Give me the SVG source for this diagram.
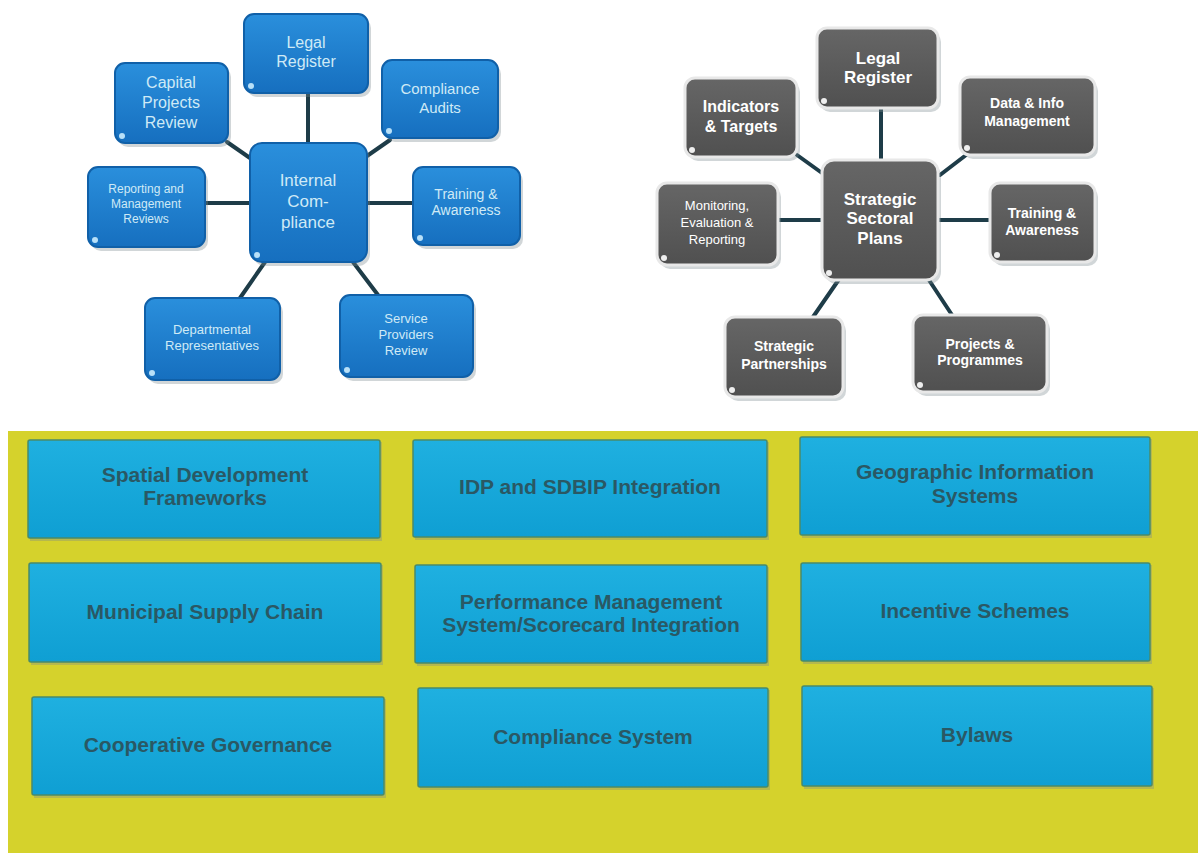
<svg xmlns="http://www.w3.org/2000/svg" width="1204" height="853" viewBox="0 0 1204 853">
<defs>
<linearGradient id="gBlue" x1="0" y1="0" x2="0" y2="1"><stop offset="0" stop-color="#2a8fdc"/><stop offset="1" stop-color="#166fbf"/></linearGradient>
<linearGradient id="gGrey" x1="0" y1="0" x2="0" y2="1"><stop offset="0" stop-color="#666"/><stop offset="1" stop-color="#505050"/></linearGradient>
<linearGradient id="gCyan" x1="0" y1="0" x2="0" y2="1"><stop offset="0" stop-color="#1fb0e0"/><stop offset="1" stop-color="#0f9fd3"/></linearGradient>
</defs>
<style>
.bl{fill:url(#gBlue);stroke:#1060a8;stroke-width:2}
.gr{fill:url(#gGrey);stroke:#e8e8e8;stroke-width:3}
.cy{fill:url(#gCyan);stroke:#4a8a6a;stroke-width:1.5}
.sh{fill:#7a8a90;opacity:0.35}
.dot{fill:#b8e0f8}
.dotg{fill:#eee}
.con line{stroke:#1e3c48;stroke-width:4;stroke-linecap:round}
.tb{font-family:"Liberation Sans",Arial,sans-serif;fill:#cfeaf6;text-anchor:middle}
.tg{font-family:"Liberation Sans",Arial,sans-serif;fill:#fff;font-weight:bold;text-anchor:middle}
.tn{font-weight:normal}
.ty{font-family:"Liberation Sans",Arial,sans-serif;fill:#2a5864;font-weight:bold;font-size:21px;text-anchor:middle}
</style>
<rect width="1204" height="853" fill="#fff"/>

<g id="connectors" class="con">
<line x1="308" y1="93" x2="308" y2="143"/>
<line x1="227" y1="142" x2="250" y2="158"/>
<line x1="367" y1="156" x2="390" y2="140"/>
<line x1="205" y1="203" x2="250" y2="203"/>
<line x1="367" y1="203" x2="413" y2="203"/>
<line x1="265" y1="262" x2="240" y2="298"/>
<line x1="353" y1="262" x2="378" y2="295"/>
<line x1="881" y1="108" x2="881" y2="160"/>
<line x1="797" y1="155" x2="822" y2="173"/>
<line x1="940" y1="175" x2="970" y2="152"/>
<line x1="778" y1="220" x2="822" y2="220"/>
<line x1="938" y1="220" x2="990" y2="220"/>
<line x1="842" y1="275" x2="813" y2="317"/>
<line x1="927" y1="277" x2="952" y2="315"/>
</g>

<!-- Left cluster -->
<g id="lc-legal"><rect class="sh" x="247" y="18" width="124" height="79" rx="10"/><rect class="bl" x="244" y="14" width="124" height="79" rx="10"/><circle class="dot" cx="251" cy="86" r="3"/>
<text class="tb" font-size="16"><tspan x="306" y="48">Legal</tspan><tspan x="306" y="67">Register</tspan></text></g>
<g id="lc-capital"><rect class="sh" x="118" y="67" width="113" height="80" rx="10"/><rect class="bl" x="115" y="63" width="113" height="80" rx="10"/><circle class="dot" cx="122" cy="136" r="3"/>
<text class="tb" font-size="16"><tspan x="171" y="88">Capital</tspan><tspan x="171" y="108">Projects</tspan><tspan x="171" y="128">Review</tspan></text></g>
<g id="lc-audits"><rect class="sh" x="385" y="64" width="116" height="78" rx="10"/><rect class="bl" x="382" y="60" width="116" height="78" rx="10"/><circle class="dot" cx="389" cy="131" r="3"/>
<text class="tb" font-size="15"><tspan x="440" y="94">Compliance</tspan><tspan x="440" y="113">Audits</tspan></text></g>
<g id="lc-center"><rect class="sh" x="253" y="147" width="117" height="119" rx="12"/><rect class="bl" x="250" y="143" width="117" height="119" rx="12"/><circle class="dot" cx="257" cy="255" r="3"/>
<text class="tb" font-size="17" fill="#eaf6fc"><tspan x="308" y="186">Internal</tspan><tspan x="308" y="207">Com-</tspan><tspan x="308" y="228">pliance</tspan></text></g>
<g id="lc-reporting"><rect class="sh" x="91" y="171" width="117" height="80" rx="10"/><rect class="bl" x="88" y="167" width="117" height="80" rx="10"/><circle class="dot" cx="95" cy="240" r="3"/>
<text class="tb" font-size="12"><tspan x="146" y="193">Reporting and</tspan><tspan x="146" y="208">Management</tspan><tspan x="146" y="223">Reviews</tspan></text></g>
<g id="lc-training"><rect class="sh" x="416" y="171" width="107" height="78" rx="10"/><rect class="bl" x="413" y="167" width="107" height="78" rx="10"/><circle class="dot" cx="420" cy="238" r="3"/>
<text class="tb" font-size="14"><tspan x="466" y="199">Training  &amp;</tspan><tspan x="466" y="215">Awareness</tspan></text></g>
<g id="lc-departmental"><rect class="sh" x="148" y="302" width="135" height="82" rx="10"/><rect class="bl" x="145" y="298" width="135" height="82" rx="10"/><circle class="dot" cx="152" cy="373" r="3"/>
<text class="tb" font-size="13"><tspan x="212" y="334">Departmental</tspan><tspan x="212" y="350">Representatives</tspan></text></g>
<g id="lc-service"><rect class="sh" x="343" y="299" width="133" height="82" rx="10"/><rect class="bl" x="340" y="295" width="133" height="82" rx="10"/><circle class="dot" cx="347" cy="370" r="3"/>
<text class="tb" font-size="13"><tspan x="406" y="323">Service</tspan><tspan x="406" y="339">Providers</tspan><tspan x="406" y="355">Review</tspan></text></g>

<!-- Right cluster -->
<g id="rc-legal"><rect class="sh" x="820" y="32" width="121" height="80" rx="10"/><rect class="gr" x="817" y="28" width="121" height="80" rx="10"/><circle class="dotg" cx="824" cy="101" r="3"/>
<text class="tg" font-size="17"><tspan x="878" y="64">Legal</tspan><tspan x="878" y="83">Register</tspan></text></g>
<g id="rc-indicators"><rect class="sh" x="688" y="82" width="112" height="79" rx="10"/><rect class="gr" x="685" y="78" width="112" height="79" rx="10"/><circle class="dotg" cx="692" cy="150" r="3"/>
<text class="tg" font-size="16"><tspan x="741" y="112">Indicators</tspan><tspan x="741" y="132">&amp; Targets</tspan></text></g>
<g id="rc-data"><rect class="sh" x="963" y="81" width="135" height="78" rx="10"/><rect class="gr" x="960" y="77" width="135" height="78" rx="10"/><circle class="dotg" cx="967" cy="148" r="3"/>
<text class="tg" font-size="14"><tspan x="1027" y="108">Data &amp; Info</tspan><tspan x="1027" y="126">Management</tspan></text></g>
<g id="rc-center"><rect class="sh" x="825" y="164" width="116" height="120" rx="12"/><rect class="gr" x="822" y="160" width="116" height="120" rx="12"/><circle class="dotg" cx="829" cy="273" r="3"/>
<text class="tg" font-size="17"><tspan x="880" y="205">Strategic</tspan><tspan x="880" y="224">Sectoral</tspan><tspan x="880" y="244">Plans</tspan></text></g>
<g id="rc-monitoring"><rect class="sh" x="660" y="187" width="121" height="82" rx="10"/><rect class="gr" x="657" y="183" width="121" height="82" rx="10"/><circle class="dotg" cx="664" cy="258" r="3"/>
<text class="tg tn" font-size="13"><tspan x="717" y="210">Monitoring,</tspan><tspan x="717" y="227">Evaluation  &amp;</tspan><tspan x="717" y="244">Reporting</tspan></text></g>
<g id="rc-training"><rect class="sh" x="993" y="187" width="105" height="79" rx="10"/><rect class="gr" x="990" y="183" width="105" height="79" rx="10"/><circle class="dotg" cx="997" cy="255" r="3"/>
<text class="tg" font-size="14"><tspan x="1042" y="218">Training &amp;</tspan><tspan x="1042" y="235">Awareness</tspan></text></g>
<g id="rc-partnerships"><rect class="sh" x="728" y="321" width="118" height="80" rx="10"/><rect class="gr" x="725" y="317" width="118" height="80" rx="10"/><circle class="dotg" cx="732" cy="390" r="3"/>
<text class="tg" font-size="14"><tspan x="784" y="351">Strategic</tspan><tspan x="784" y="369">Partnerships</tspan></text></g>
<g id="rc-projects"><rect class="sh" x="916" y="319" width="134" height="77" rx="10"/><rect class="gr" x="913" y="315" width="134" height="77" rx="10"/><circle class="dotg" cx="920" cy="385" r="3"/>
<text class="tg" font-size="14"><tspan x="980" y="349">Projects &amp;</tspan><tspan x="980" y="365">Programmes</tspan></text></g>

<!-- Bottom panel -->
<rect x="8" y="431" width="1190" height="422" fill="#d5d22c"/>
<g id="b-spatial"><rect class="sh" x="30" y="442" width="352" height="99"/><rect class="cy" x="28" y="440" width="352" height="98" rx="2"/>
<text class="ty"><tspan x="205" y="482">Spatial Development</tspan><tspan x="205" y="505">Frameworks</tspan></text></g>
<g id="b-idp"><rect class="sh" x="415" y="442" width="354" height="98"/><rect class="cy" x="413" y="440" width="354" height="97" rx="2"/>
<text class="ty" x="590" y="494">IDP and SDBIP Integration</text></g>
<g id="b-gis"><rect class="sh" x="802" y="439" width="350" height="99"/><rect class="cy" x="800" y="437" width="350" height="98" rx="2"/>
<text class="ty"><tspan x="975" y="479">Geographic Information</tspan><tspan x="975" y="503">Systems</tspan></text></g>
<g id="b-municipal"><rect class="sh" x="31" y="565" width="352" height="100"/><rect class="cy" x="29" y="563" width="352" height="99" rx="2"/>
<text class="ty" x="205" y="619">Municipal Supply Chain</text></g>
<g id="b-performance"><rect class="sh" x="417" y="567" width="352" height="99"/><rect class="cy" x="415" y="565" width="352" height="98" rx="2"/>
<text class="ty"><tspan x="591" y="609">Performance Management</tspan><tspan x="591" y="632">System/Scorecard Integration</tspan></text></g>
<g id="b-incentive"><rect class="sh" x="803" y="565" width="349" height="99"/><rect class="cy" x="801" y="563" width="349" height="98" rx="2"/>
<text class="ty" x="975" y="618">Incentive  Schemes</text></g>
<g id="b-cooperative"><rect class="sh" x="34" y="699" width="352" height="99"/><rect class="cy" x="32" y="697" width="352" height="98" rx="2"/>
<text class="ty" x="208" y="752">Cooperative Governance</text></g>
<g id="b-compliance"><rect class="sh" x="420" y="690" width="350" height="100"/><rect class="cy" x="418" y="688" width="350" height="99" rx="2"/>
<text class="ty" x="593" y="744">Compliance System</text></g>
<g id="b-bylaws"><rect class="sh" x="804" y="688" width="350" height="101"/><rect class="cy" x="802" y="686" width="350" height="100" rx="2"/>
<text class="ty" x="977" y="742">Bylaws</text></g>
</svg>
